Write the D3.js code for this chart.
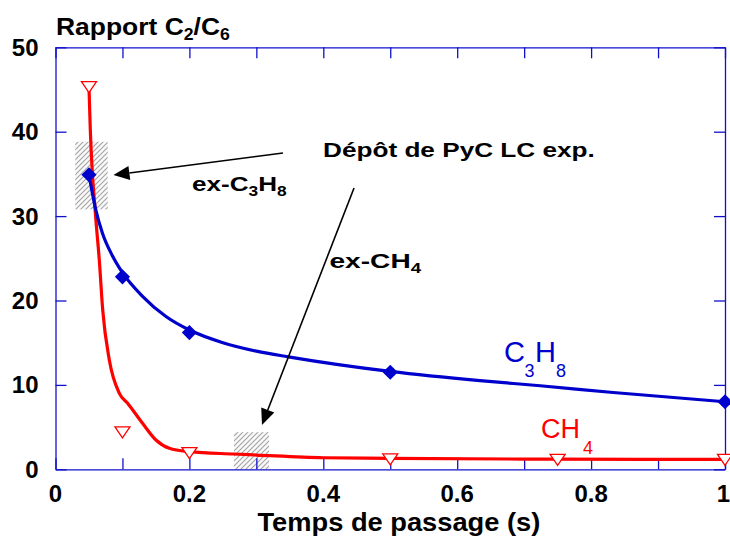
<!DOCTYPE html>
<html><head><meta charset="utf-8">
<script src="https://cdn.jsdelivr.net/npm/d3@7"></script>
<style>
body{margin:0;background:#fff}
svg{display:block}
text{font-family:"Liberation Sans",Arial,Helvetica,sans-serif}
</style>
</head><body>
<svg id="c" width="730" height="537"></svg>
<script>
// ---------- data ----------
const xTickValues = [0,0.1,0.2,0.3,0.4,0.5,0.6,0.7,0.8,0.9,1.0];
const xLabelValues = [0,0.2,0.4,0.6,0.8,1];
const xTickLabels = ["0","0.2","0.4","0.6","0.8","1"];
const yTickValues = [0,10,20,30,40,50];
const yTickLabels = ["0","10","20","30","40","50"];

// measured points
const c3h8Times  = [0.05,0.1,0.2,0.5,1.0];
const c3h8Ratios = [34.9,22.8,16.2,11.5,8.0];
const ch4Times   = [0.05,0.1,0.2,0.5,0.75,1.0];
const ch4Ratios  = [45.3,4.4,1.95,1.2,1.15,1.15];

// fitted curves
const c3h8FitTimes  = [0.05,0.06,0.07,0.085,0.1,0.13,0.165,0.2,0.25,0.3,0.35,0.5,0.634,0.724,0.833,1.0];
const c3h8FitRatios = [34.9,30.8,28.0,25.3,23.3,20.5,18.1,16.5,15.0,14.0,13.3,11.6,10.5,9.9,9.1,8.0];
const ch4FitTimes   = [0.05,0.052,0.0595,0.0654,0.0705,0.0804,0.0954,0.108,0.13,0.15,0.17,0.2,0.266,0.3,0.4,0.5,0.75,1.0];
const ch4FitRatios  = [45.3,40.2,30.4,24.8,18.9,12.95,9.0,7.8,5.45,3.47,2.49,2.09,1.81,1.69,1.37,1.3,1.2,1.18];

// hatched experimental deposition zones (data units)
const zoneX0 = [0.0295,0.2666];
const zoneX1 = [0.078,0.319];
const zoneY0 = [30.8,0];
const zoneY1 = [38.8,4.4];

// annotation arrows (data units): start -> tip
const arrowX0 = [0.3398,0.4459];
const arrowY0 = [37.48,33.33];
const arrowX1 = [0.0866,0.3084];
const arrowY1 = [34.87,5.25];

// ---------- layout ----------
const svg = d3.select("#c");
const X0 = 55.5, X1 = 725, Y0 = 469.3, Y1 = 47.3;
const x = d3.scaleLinear().domain([0,1]).range([X0,X1]);
const y = d3.scaleLinear().domain([0,50]).range([Y0,Y1]);
const AXIS = "#1010cc", BLUE = "#0000cc", RED = "#ff0000";

// hatch pattern
const defs = svg.append("defs");
const pat = defs.append("pattern").attr("id","hatch").attr("patternUnits","userSpaceOnUse")
  .attr("width",5).attr("height",5);
pat.append("rect").attr("width",5).attr("height",5).attr("fill","#fafafa");
pat.append("path").attr("d","M-1,1 L1,-1 M0,5 L5,0 M4,6 L6,4")
  .attr("stroke","#a6a6a6").attr("stroke-width",1.2);

// zones
svg.append("g").selectAll("rect").data(zoneX0).join("rect")
  .attr("x",(d,i)=>x(zoneX0[i]))
  .attr("y",(d,i)=>y(zoneY1[i]))
  .attr("width",(d,i)=>x(zoneX1[i])-x(zoneX0[i]))
  .attr("height",(d,i)=>y(zoneY0[i])-y(zoneY1[i]))
  .attr("fill","url(#hatch)");

// axes
function styleAxis(g){
  g.selectAll(".domain").attr("stroke",AXIS).attr("stroke-width",1.3);
  g.selectAll(".tick line").attr("stroke",AXIS).attr("stroke-width",1.3);
  g.selectAll(".tick text").remove();
}
svg.append("g").attr("transform",`translate(0,${Y0})`)
  .call(d3.axisBottom(x).tickValues(xTickValues).tickSizeInner(-11).tickSizeOuter(0).tickFormat(""))
  .call(styleAxis);
svg.append("g").attr("transform",`translate(0,${Y1})`)
  .call(d3.axisTop(x).tickValues(xTickValues).tickSizeInner(-11).tickSizeOuter(0).tickFormat(""))
  .call(styleAxis);
svg.append("g").attr("transform",`translate(${X0},0)`)
  .call(d3.axisLeft(y).tickValues(yTickValues).tickSizeInner(-11).tickSizeOuter(0).tickFormat(""))
  .call(styleAxis);
svg.append("g").attr("transform",`translate(${X1},0)`)
  .call(d3.axisRight(y).tickValues(yTickValues).tickSizeInner(-11).tickSizeOuter(0).tickFormat(""))
  .call(styleAxis);

// tick labels
const last = xLabelValues.length-1;
svg.append("g").selectAll("text").data(xLabelValues).join("text")
  .attr("x",(d,i)=>i===last?730:x(d)).attr("y",Y0+33)
  .attr("text-anchor",(d,i)=>i===last?"end":"middle")
  .attr("font-weight","bold").attr("font-size",24)
  .text((d,i)=>xTickLabels[i]);
svg.append("g").selectAll("text").data(yTickValues).join("text")
  .attr("x",38.5).attr("y",d=>y(d)+8.5)
  .attr("text-anchor","end").attr("font-weight","bold").attr("font-size",24)
  .text((d,i)=>yTickLabels[i]);

// curves
const c3h8Fit = c3h8FitTimes.map((t,i)=>[t,c3h8FitRatios[i]]);
const ch4Fit  = ch4FitTimes.map((t,i)=>[t,ch4FitRatios[i]]);
const line = d3.line().x(d=>x(d[0])).y(d=>y(d[1])).curve(d3.curveMonotoneX);
svg.append("path").attr("d",line(ch4Fit)).attr("fill","none").attr("stroke",RED).attr("stroke-width",3.2);
svg.append("path").attr("d",line(c3h8Fit)).attr("fill","none").attr("stroke",BLUE).attr("stroke-width",3.2);

// markers
const diamond = d3.symbol().type(d3.symbolSquare).size(115);
svg.append("g").selectAll("path").data(c3h8Times).join("path")
  .attr("d",diamond())
  .attr("transform",(d,i)=>`translate(${x(d)},${y(c3h8Ratios[i])}) rotate(45)`)
  .attr("fill",BLUE);
svg.append("g").selectAll("path").data(ch4Times).join("path")
  .attr("d","M-7.5,-5.3 L7.5,-5.3 L0,5.7 Z")
  .attr("transform",(d,i)=>`translate(${x(d)},${y(ch4Ratios[i])})`)
  .attr("fill","#fff").attr("stroke",RED).attr("stroke-width",1.3);

// arrows
arrowX0.forEach((d,i)=>{
  const sx=x(arrowX0[i]), sy=y(arrowY0[i]), tx=x(arrowX1[i]), ty=y(arrowY1[i]);
  const ang=Math.atan2(ty-sy,tx-sx), L=16, W=7;
  const bx=tx-L*Math.cos(ang), by=ty-L*Math.sin(ang);
  svg.append("line").attr("x1",sx).attr("y1",sy).attr("x2",bx).attr("y2",by)
    .attr("stroke","#000").attr("stroke-width",1.6);
  const px=-Math.sin(ang), py=Math.cos(ang);
  svg.append("path").attr("d",`M${tx},${ty} L${bx+px*W},${by+py*W} L${bx-px*W},${by-py*W} Z`).attr("fill","#000");
});

// text helpers
function fit(sel,w){
  const bb=sel.node().getBBox(); const s=w/bb.width; const ax=bb.x;
  sel.attr("transform",`translate(${ax},0) scale(${s},1) translate(${-ax},0)`);
}
function rich(xp,yp,parts,opts){
  const t=svg.append("text").attr("x",xp).attr("y",yp)
    .attr("font-weight",opts.weight||"bold").attr("fill",opts.fill||"#000");
  parts.forEach(p=>{
    t.append("tspan").attr("font-size",p[1]).attr("dy",p[2]||0).text(p[0]);
  });
  return t;
}

// title
fit(rich(56,35,[["Rapport C",24],["2",16,5],["/C",24,-5],["6",16,5]],{}),174);
// annotations
fit(rich(323,157,[["Dépôt de PyC LC exp.",21]],{}),272);
fit(rich(192,191,[["ex-C",21],["3",14,5],["H",21,-5],["8",14,5]],{}),95);
fit(rich(329.5,268,[["ex-CH",21],["4",14,5]],{}),92);
// axis title
fit(rich(257.5,531,[["Temps de passage (s)",26]],{}),283);

// series labels
const lb=svg.append("text").attr("fill",BLUE).attr("font-size",29);
lb.append("tspan").attr("x",504).attr("y",362).text("C");
lb.append("tspan").attr("x",524.5).attr("y",377).attr("font-size",18).text("3");
lb.append("tspan").attr("x",535).attr("y",362).text("H");
lb.append("tspan").attr("x",556).attr("y",377).attr("font-size",18).text("8");
const lr=svg.append("text").attr("fill",RED).attr("font-size",27);
lr.append("tspan").attr("x",541).attr("y",438).text("CH");
lr.append("tspan").attr("x",583).attr("y",454).attr("font-size",18).text("4");
</script>
</body></html>
